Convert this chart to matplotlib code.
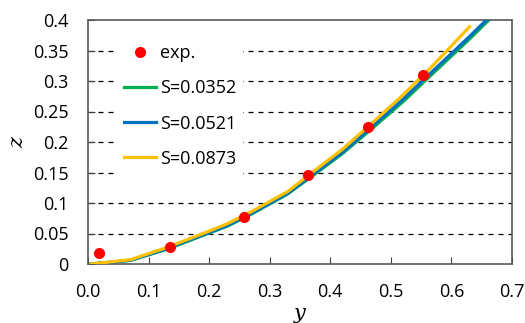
import matplotlib
matplotlib.use("Agg")
import matplotlib.pyplot as plt

exp_y = [0.018, 0.135, 0.258, 0.363, 0.462, 0.553]
exp_z = [0.018, 0.028, 0.077, 0.146, 0.225, 0.310]

y_087 = [0.005, 0.07, 0.13, 0.19, 0.23, 0.27, 0.33, 0.37, 0.42, 0.47, 0.52, 0.57, 0.63]
z_087 = [0.000, 0.007, 0.027, 0.050, 0.066, 0.086, 0.119, 0.150, 0.188, 0.232, 0.277, 0.326, 0.389]

y_052 = [0.005, 0.07, 0.13, 0.19, 0.23, 0.27, 0.33, 0.37, 0.42, 0.47, 0.52, 0.57, 0.63, 0.67]
z_052 = [0.000, 0.006, 0.025, 0.048, 0.063, 0.083, 0.116, 0.146, 0.183, 0.226, 0.270, 0.317, 0.373, 0.412]

y_035 = [0.005, 0.07, 0.13, 0.19, 0.23, 0.27, 0.33, 0.37, 0.42, 0.47, 0.52, 0.57, 0.63, 0.67]
z_035 = [0.000, 0.006, 0.024, 0.047, 0.062, 0.082, 0.115, 0.144, 0.181, 0.223, 0.266, 0.313, 0.369, 0.408]

xticks = [0.0, 0.1, 0.2, 0.3, 0.4, 0.5, 0.6, 0.7]
xticklabels = ["0.0", "0.1", "0.2", "0.3", "0.4", "0.5", "0.6", "0.7"]
yticks = [0, 0.05, 0.1, 0.15, 0.2, 0.25, 0.3, 0.35, 0.4]
yticklabels = ["0", "0.05", "0.1", "0.15", "0.2", "0.25", "0.3", "0.35", "0.4"]

plt.rcParams['font.family'] = ['Open Sans', 'DejaVu Sans']

fig = plt.figure(figsize=(5.25, 3.23), dpi=100)
ax = fig.add_axes([88/525, 1-264/323, (512-88)/525, (264-20)/323])

for yv in yticks[1:-1]:
    ax.axhline(yv, color='black', lw=0.9, ls=(0, (4, 4)), zorder=0)

ax.plot(y_035, z_035, color='#00B050', lw=2.3, label='S=0.0352', zorder=2)
ax.plot(y_052, z_052, color='#0070C0', lw=2.3, label='S=0.0521', zorder=3)
ax.plot(y_087, z_087, color='#FFC000', lw=2.3, label='S=0.0873', zorder=4)
ax.plot(exp_y, exp_z, 'o', color='#FF0000', ms=8, mec='none', label='exp.', zorder=5)

ax.set_xlim(0, 0.7)
ax.set_ylim(0, 0.4)
ax.set_xticks(xticks)
ax.set_xticklabels(xticklabels, fontsize=13)
ax.set_yticks(yticks)
ax.set_yticklabels(yticklabels, fontsize=13)
ax.tick_params(direction='in', length=5, color='#404040', pad=14)
ax.tick_params(axis='y', pad=14)
for s in ax.spines.values():
    s.set_color('#595959')
    s.set_linewidth(1.2)

ax.set_xlabel('y', fontsize=15, family='DejaVu Serif', style='italic', labelpad=2)
ax.set_ylabel('z', fontsize=15, family='DejaVu Serif', style='italic', labelpad=4)

handles, labels = ax.get_legend_handles_labels()
order = [3, 0, 1, 2]
leg = ax.legend([handles[i] for i in order], [labels[i] for i in order],
                loc='upper left', bbox_to_anchor=(0.067, 0.93), frameon=True,
                fontsize=13, labelspacing=0.95, handlelength=1.8, handletextpad=0.2,
                borderpad=0.4, borderaxespad=0, fancybox=False)
leg.get_frame().set_edgecolor('none')
leg.get_frame().set_facecolor('white')
leg.get_frame().set_alpha(1)
leg.set_zorder(10)

fig.savefig('out.png', dpi=100)
